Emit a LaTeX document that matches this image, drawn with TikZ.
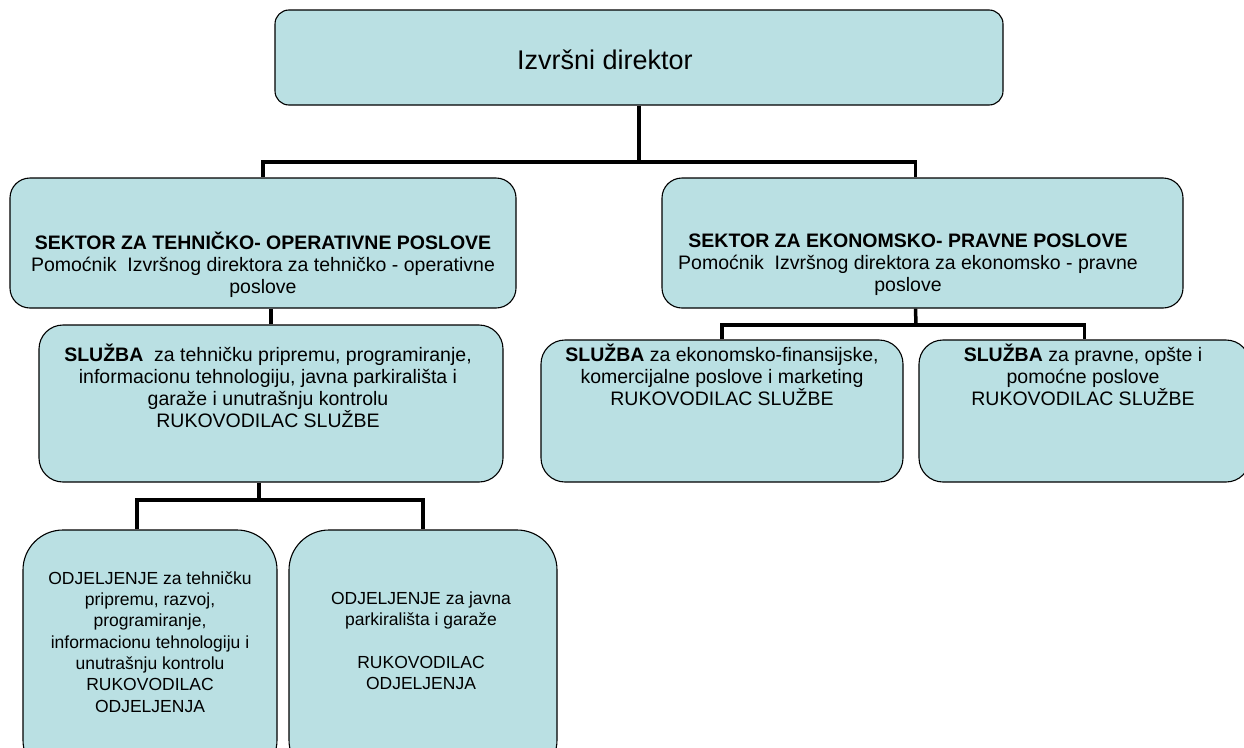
\documentclass[tikz,border=0pt]{standalone}
\usepackage{fontspec}
\setmainfont{Liberation Sans}
\usepackage{tikz}
\usetikzlibrary{positioning}
\definecolor{orgfill}{RGB}{186,224,227}

\begin{document}
\begin{tikzpicture}[
    x=1pt, y=-1pt,
    box/.style={rectangle, draw=black, line width=1.1pt, fill=orgfill, inner sep=0pt},
    txt/.style={align=center, inner sep=0pt, font=\fontsize{19.5}{21.8}\selectfont},
    smalltxt/.style={txt, font=\fontsize{17.5}{21.3}\selectfont},
    conn/.style={line width=3.5pt}
]
\useasboundingbox (0,0) rectangle (1244,747);
\clip (0,0) rectangle (1244,747);

% Level 0
\node[box, rounded corners=14pt, minimum width=728pt, minimum height=95pt] (dir) at (639,57.5) {};
\node[txt, font=\fontsize{27}{30}\selectfont] (dirtxt) at (605,60) {Izvršni direktor};

% Level 1 - sektori
\node[box, rounded corners=20pt, minimum width=506pt, minimum height=130pt] (sekT) at (263,243) {};
\node[box, rounded corners=20pt, minimum width=521pt, minimum height=130pt] (sekE) at (922.5,243) {};
\node[txt] (sekTtxt) at (263,265) {\textbf{SEKTOR ZA TEHNIČKO- OPERATIVNE POSLOVE}\\
    Pomoćnik~ Izvršnog direktora za tehničko - operativne\\poslove};
\node[txt] (sekEtxt) at (908,265) {\textbf{SEKTOR ZA EKONOMSKO- PRAVNE POSLOVE}\\
    Pomoćnik~ Izvršnog direktora za ekonomsko - pravne\\poslove};

% Level 2 - sluzbe
\node[box, rounded corners=24pt, minimum width=464pt, minimum height=157pt] (sluT) at (271,403.5) {};
\node[box, rounded corners=24pt, minimum width=362pt, minimum height=142pt] (sluE) at (722,411) {};
\node[box, rounded corners=24pt, minimum width=331pt, minimum height=142pt] (sluP) at (1084.5,411) {};
\node[txt] (sluTtxt) at (268,386) {\textbf{SLUŽBA}~ za tehničku pripremu, programiranje,\\
    informacionu tehnologiju, javna parkirališta i\\garaže i unutrašnju kontrolu\\RUKOVODILAC SLUŽBE};
\node[txt] (sluEtxt) at (722,375) {\textbf{SLUŽBA} za ekonomsko-finansijske,\\
    komercijalne poslove i marketing\\RUKOVODILAC SLUŽBE};
\node[txt] (sluPtxt) at (1083,375) {\textbf{SLUŽBA} za pravne, opšte i\\
    pomoćne poslove\\RUKOVODILAC SLUŽBE};

% Level 3 - odjeljenja
\node[box, rounded corners=40pt, minimum width=254pt, minimum height=250pt] (odjT) at (150,655) {};
\node[box, rounded corners=40pt, minimum width=268pt, minimum height=250pt] (odjP) at (423,655) {};
\node[smalltxt] (odjTtxt) at (150,642) {ODJELJENJE za tehničku\\pripremu, razvoj,\\programiranje,\\
    informacionu tehnologiju i\\unutrašnju kontrolu\\RUKOVODILAC\\ODJELJENJA};
\node[smalltxt] (odjPtxt) at (421,641) {ODJELJENJE za javna\\parkirališta i garaže\\[21.3pt]
    RUKOVODILAC\\ODJELJENJA};

% Connectors
\coordinate (busTop) at (639,162);
\coordinate (busE) at (916,325);
\coordinate (busT) at (259,500);
\draw[conn] (dir) -- (busTop);
\draw[conn] (sekT.north) |- (busTop) -| ([xshift=-7pt]sekE.north);
\draw[conn] (sluT.north) -- (sluT.north |- sekT.south);
\draw[conn] ([xshift=-7pt]sekE.south) -- (busE);
\draw[conn] (sluE.north) |- (busE) -| (sluP.north);
\draw[conn] ([xshift=-12pt]sluT.south) -- (busT);
\draw[conn] ([xshift=-13pt]odjT.north) |- (busT) -| (odjP.north);

\end{tikzpicture}
\end{document}
